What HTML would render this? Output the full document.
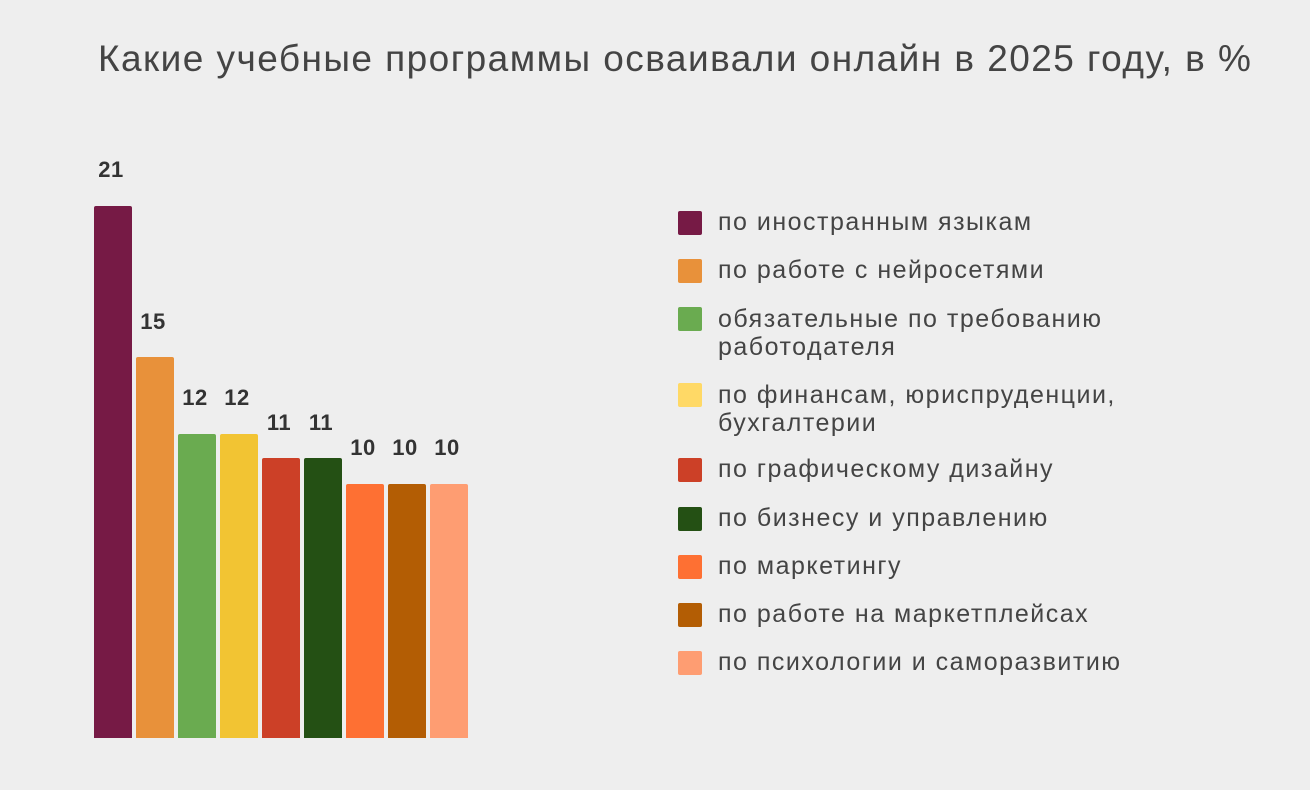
<!DOCTYPE html>
<html><head><meta charset="utf-8"><style>
body{margin:0;width:1310px;height:790px;background:#eeeeee;font-family:"Liberation Sans",sans-serif;color:#444;position:relative;overflow:hidden}
.t{position:absolute;left:98px;top:38px;font-size:37px;letter-spacing:1.45px;white-space:nowrap}
.b{position:absolute;width:38px;bottom:52px;border-radius:2px 2px 0 0}
.v{position:absolute;width:50px;text-align:center;font-weight:bold;font-size:22px;letter-spacing:0.5px;color:#333}
.sq{position:absolute;left:678px;width:24px;height:24px;border-radius:2px}
.lt{position:absolute;left:718px;font-size:25px;letter-spacing:1.5px;line-height:28px;white-space:nowrap}
</style></head><body>
<div class="t">Какие учебные программы осваивали онлайн в 2025 году, в %</div>
<div class="b" style="left:94px;top:206px;background:#761a45"></div>
<div class="b" style="left:136px;top:357px;background:#e8913a"></div>
<div class="b" style="left:178px;top:434px;background:#6aab50"></div>
<div class="b" style="left:220px;top:434px;background:#f2c433"></div>
<div class="b" style="left:262px;top:458px;background:#cc4027"></div>
<div class="b" style="left:304px;top:458px;background:#245014"></div>
<div class="b" style="left:346px;top:484px;background:#fe7033"></div>
<div class="b" style="left:388px;top:484px;background:#b35d04"></div>
<div class="b" style="left:430px;top:484px;background:#fe9d72"></div>
<div class="v" style="left:86px;top:157px">21</div>
<div class="v" style="left:128px;top:309px">15</div>
<div class="v" style="left:170px;top:385px">12</div>
<div class="v" style="left:212px;top:385px">12</div>
<div class="v" style="left:254px;top:410px">11</div>
<div class="v" style="left:296px;top:410px">11</div>
<div class="v" style="left:338px;top:435px">10</div>
<div class="v" style="left:380px;top:435px">10</div>
<div class="v" style="left:422px;top:435px">10</div>
<div class="sq" style="top:211px;background:#761a45"></div><div class="lt" style="top:208px">по иностранным языкам</div>
<div class="sq" style="top:259px;background:#e8913a"></div><div class="lt" style="top:256px">по работе с нейросетями</div>
<div class="sq" style="top:307px;background:#6aab50"></div><div class="lt" style="top:305px">обязательные по требованию<br>работодателя</div>
<div class="sq" style="top:383px;background:#ffd966"></div><div class="lt" style="top:381px">по финансам, юриспруденции,<br>бухгалтерии</div>
<div class="sq" style="top:458px;background:#cc4027"></div><div class="lt" style="top:455px">по графическому дизайну</div>
<div class="sq" style="top:507px;background:#245014"></div><div class="lt" style="top:504px">по бизнесу и управлению</div>
<div class="sq" style="top:555px;background:#fe7033"></div><div class="lt" style="top:552px">по маркетингу</div>
<div class="sq" style="top:603px;background:#b35d04"></div><div class="lt" style="top:600px">по работе на маркетплейсах</div>
<div class="sq" style="top:651px;background:#fe9d72"></div><div class="lt" style="top:648px">по психологии и саморазвитию</div>
</body></html>
